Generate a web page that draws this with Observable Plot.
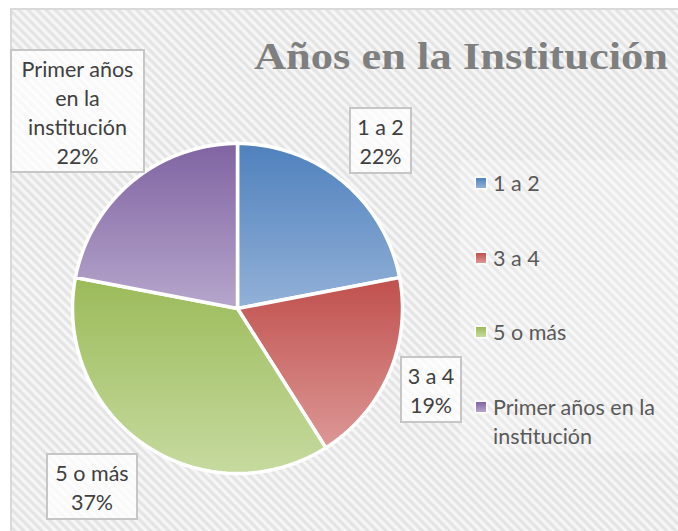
<!DOCTYPE html>
<html><head><meta charset="utf-8">
<script src="https://cdn.jsdelivr.net/npm/d3@7"></script>
<script src="https://cdn.jsdelivr.net/npm/@observablehq/plot@0.6"></script>
<style>
html,body{margin:0;padding:0;background:#fff;}
#wrap{position:relative;width:678px;height:531px;overflow:hidden;font-family:Lato,"Open Sans",sans-serif;}
#bg{position:absolute;left:10px;top:8px;width:680px;height:540px;box-sizing:border-box;border:2px solid #d9d9d9;
 background:repeating-linear-gradient(45deg,#e0e0e0 0px,#fafafa 3.2px,#e0e0e0 6.4px);}
#legbg{position:absolute;left:460px;top:160px;width:230px;height:292px;background:rgba(255,255,255,0.22);}
#chart{position:absolute;left:0;top:0;}
.lbl{position:absolute;box-sizing:border-box;border:2px solid #c6c6c6;background:rgba(255,255,255,0.75);color:#404040;
 text-align:center;font-size:21.5px;line-height:29px;padding-top:4px;white-space:nowrap;}
.leg{position:absolute;left:476px;color:#595959;font-size:21.5px;line-height:29px;white-space:nowrap;}
.leg .sw{position:absolute;left:0;width:10px;height:10px;box-shadow:0 0 0 1.5px #fff;}
.leg .tx{position:absolute;left:17px;}
</style></head>
<body><div id="wrap"><div id="bg"></div><div id="legbg"></div></div>
<script>
// ---- data ----
const title = "Años en la Institución";
const categories = ["1 a 2", "3 a 4", "5 o más", "Primer años en la institución"];
const percents = [22, 19, 37, 22];
const darkColors = ["#4f81bd", "#c0504d", "#9bbb59", "#8064a2"];
const lightColors = ["#93b1d8", "#dc9896", "#c6da9f", "#b6a6cc"];
// wrapped text as it appears
const labelLines = [["1 a 2"], ["3 a 4"], ["5 o más"], ["Primer años", "en la", "institución"]];
const legendLines = [["1 a 2"], ["3 a 4"], ["5 o más"], ["Primer años en la", "institución"]];

// ---- layout ----
const W = 678, H = 531;
const cx = 237, cy = 308, r = 165;
const labelBoxes = [ // left, top, width, height
  [349, 107, 63, 67], [400, 356, 62, 67], [46, 453, 92, 67], [10, 49, 135, 124]
];
const legendCenters = [183, 258, 332, 407];

// ---- pie geometry from data ----
const arcs = d3.pie().sort(null).value(d => d)(percents);
const pts = [];
arcs.forEach((s, i) => {
  const fill = `url(#g${i})`;
  pts.push({x: 0, y: 0, key: i, fill});
  const n = Math.max(4, Math.ceil(200 * (s.endAngle - s.startAngle) / (2 * Math.PI)));
  for (let k = 0; k <= n; k++) {
    const a = s.startAngle + (s.endAngle - s.startAngle) * k / n;
    pts.push({x: Math.sin(a), y: -Math.cos(a), key: i, fill});
  }
});

const svg = Plot.plot({
  width: W, height: H, margin: 0,
  style: {background: "transparent", overflow: "visible"},
  x: {domain: [-1, 1], range: [cx - r, cx + r], axis: null},
  y: {domain: [-1, 1], range: [cy - r, cy + r], axis: null},
  color: {type: "identity"},
  marks: [
    Plot.line(pts, {x: "x", y: "y", z: "key", fill: "fill", stroke: "white", strokeWidth: 3.5,
      strokeLinejoin: "round", curve: "linear-closed"})
  ]
});
svg.id = "chart";
const s = d3.select(svg);
const defs = s.insert("defs", ":first-child");
darkColors.forEach((c, i) => {
  const g = defs.append("linearGradient").attr("id", `g${i}`)
    .attr("x1", 0).attr("y1", 0).attr("x2", 0).attr("y2", 1);
  g.append("stop").attr("offset", "0%").attr("stop-color", c);
  g.append("stop").attr("offset", "100%").attr("stop-color", lightColors[i]);
});
s.append("text").text(title)
  .attr("x", 254).attr("y", 69)
  .attr("text-anchor", "start")
  .attr("textLength", 414).attr("lengthAdjust", "spacingAndGlyphs")
  .attr("font-family", "'Liberation Serif', 'DejaVu Serif', serif")
  .attr("font-weight", "bold").attr("font-size", 37).attr("fill", "#7f7f7f");

const wrap = document.getElementById("wrap");
wrap.appendChild(svg);

// data labels
labelBoxes.forEach(([l, t, w, h], i) => {
  const d = document.createElement("div");
  d.className = "lbl";
  Object.assign(d.style, {left: l + "px", top: t + "px", width: w + "px", height: h + "px"});
  d.innerHTML = labelLines[i].concat([percents[i] + "%"]).join("<br>");
  wrap.appendChild(d);
});
// legend
legendCenters.forEach((cyL, i) => {
  const d = document.createElement("div");
  d.className = "leg";
  d.style.top = (cyL - 14.5) + "px";
  d.innerHTML = `<span class="sw" style="top:9.5px;background:linear-gradient(${darkColors[i]},${lightColors[i]})"></span>` +
    `<span class="tx">${legendLines[i].join("<br>")}</span>`;
  wrap.appendChild(d);
});
</script></body></html>
